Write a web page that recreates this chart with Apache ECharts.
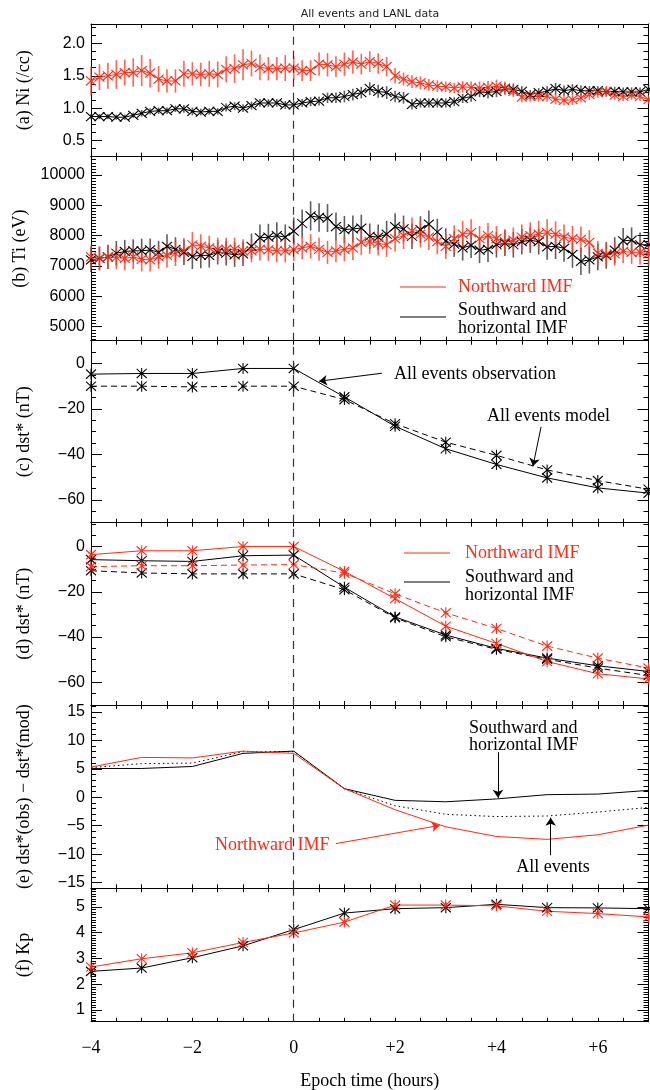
<!DOCTYPE html>
<html>
<head>
<meta charset="utf-8">
<title>All events and LANL data</title>
<script src="https://cdn.jsdelivr.net/npm/echarts@6/dist/echarts.min.js"></script>
<style>
    html, body { margin: 0; padding: 0; background: #fff; }
    #main { width: 650px; height: 1090px; }
</style>
</head>
<body>
<div id="main"></div>
<script>
// epoch grid: hourly values and 10 minute bins (hours from onset)
var hourTimes = [-4, -3, -2, -1, 0, 1, 2, 3, 4, 5, 6, 7]
var fineTimes = []
for (var t = 0; t <= 66; t++) fineTimes.push(-4 + t / 6)

// (a) ion density, /cc
var niNorth = [
    1.42, 1.48, 1.5, 1.52, 1.55, 1.55, 1.58, 1.54, 1.45, 1.42, 1.42, 1.53,
    1.53, 1.52, 1.53, 1.52, 1.6, 1.61, 1.67, 1.69, 1.63, 1.61, 1.61, 1.62,
    1.62, 1.58, 1.58, 1.68, 1.67, 1.64, 1.68, 1.71, 1.68, 1.72, 1.69, 1.64,
    1.5, 1.45, 1.41, 1.39, 1.36, 1.34, 1.33, 1.31, 1.33, 1.32, 1.31, 1.32,
    1.34, 1.31, 1.26, 1.17, 1.18, 1.18, 1.18, 1.14, 1.12, 1.13, 1.16, 1.21,
    1.24, 1.26, 1.2, 1.18, 1.2, 1.18, 1.13
]
var niNorthErr = [
    0.22, 0.2, 0.2, 0.22, 0.2, 0.22, 0.24, 0.22, 0.2, 0.18, 0.18, 0.2,
    0.18, 0.18, 0.2, 0.2, 0.2, 0.22, 0.24, 0.2, 0.2, 0.18, 0.18, 0.2,
    0.18, 0.16, 0.16, 0.18, 0.18, 0.16, 0.18, 0.18, 0.16, 0.16, 0.16, 0.15,
    0.12, 0.1, 0.1, 0.1, 0.09, 0.09, 0.08, 0.08, 0.09, 0.09, 0.1, 0.1,
    0.1, 0.1, 0.09, 0.08, 0.08, 0.08, 0.08, 0.08, 0.08, 0.08, 0.07, 0.08,
    0.08, 0.08, 0.07, 0.07, 0.07, 0.07, 0.07
]
var niSouth = [
    0.87, 0.87, 0.87, 0.86, 0.86, 0.89, 0.92, 0.95, 0.96, 0.96, 0.99, 0.99,
    0.95, 0.94, 0.95, 0.95, 1.01, 1.03, 1.0, 1.04, 1.08, 1.08, 1.08, 1.05,
    1.05, 1.08, 1.1, 1.11, 1.16, 1.16, 1.18, 1.21, 1.24, 1.3, 1.26, 1.24,
    1.18, 1.16, 1.06, 1.08, 1.08, 1.08, 1.08, 1.1, 1.15, 1.18, 1.25, 1.24,
    1.26, 1.3, 1.29, 1.26, 1.21, 1.24, 1.26, 1.3, 1.27, 1.29, 1.27, 1.27,
    1.27, 1.25, 1.26, 1.25, 1.25, 1.25, 1.29
]
var niSouthErr = [
    0.04, 0.04, 0.04, 0.04, 0.04, 0.04, 0.05, 0.05, 0.05, 0.05, 0.05, 0.06,
    0.06, 0.05, 0.05, 0.05, 0.06, 0.06, 0.06, 0.06, 0.06, 0.06, 0.06, 0.06,
    0.06, 0.06, 0.07, 0.07, 0.08, 0.08, 0.09, 0.09, 0.09, 0.1, 0.1, 0.1,
    0.09, 0.09, 0.08, 0.07, 0.07, 0.07, 0.07, 0.07, 0.07, 0.08, 0.08, 0.09,
    0.09, 0.09, 0.09, 0.08, 0.07, 0.07, 0.08, 0.09, 0.08, 0.08, 0.08, 0.07,
    0.07, 0.07, 0.07, 0.07, 0.07, 0.07, 0.07
]

// (b) ion temperature, eV
var tiNorth = [
    7300, 7250, 7300, 7280, 7250, 7300, 7220, 7200, 7300, 7350, 7420, 7500,
    7700, 7650, 7600, 7550, 7550, 7550, 7500, 7500, 7550, 7530, 7500, 7500,
    7540, 7600, 7650, 7550, 7450, 7500, 7550, 7600, 7780, 7800, 7750, 7700,
    7900, 8000, 8150, 8050, 7950, 7800, 7650, 7900, 8050, 8100, 7900, 8000,
    7900, 7800, 7850, 7950, 8000, 8050, 8100, 8050, 7950, 7900, 7880, 7780,
    7420, 7380, 7400, 7480, 7450, 7450, 7400
]
var tiNorthErr = [
    380, 400, 380, 380, 390, 400, 400, 380, 390, 400, 420, 420,
    420, 400, 400, 380, 380, 380, 380, 380, 370, 370, 380, 380,
    380, 380, 400, 380, 380, 380, 400, 400, 420, 400, 400, 400,
    420, 440, 450, 440, 420, 420, 420, 440, 440, 440, 420, 420,
    420, 420, 420, 420, 440, 440, 440, 420, 420, 420, 420, 400,
    400, 380, 380, 380, 380, 400, 400
]
var tiSouth = [
    7200, 7250, 7300, 7420, 7480, 7500, 7500, 7530, 7450, 7650, 7550, 7450,
    7320, 7350, 7350, 7450, 7420, 7370, 7400, 7650, 7930, 7950, 8000, 7950,
    8150, 8400, 8650, 8600, 8580, 8300, 8200, 8220, 8250, 7980, 7950, 8050,
    8300, 8220, 7980, 8200, 8380, 8120, 7820, 7720, 7600, 7680, 7520, 7550,
    7700, 7750, 7700, 7800, 7850, 7800, 7630, 7650, 7580, 7380, 7150, 7200,
    7300, 7350, 7520, 7830, 7850, 7700, 7700
]
var tiSouthErr = [
    400, 380, 400, 400, 380, 380, 400, 380, 380, 400, 400, 420,
    420, 420, 400, 400, 400, 400, 400, 420, 440, 440, 440, 420,
    450, 460, 480, 470, 460, 460, 450, 440, 440, 420, 420, 440,
    440, 440, 420, 440, 450, 440, 420, 420, 420, 420, 420, 420,
    420, 420, 420, 420, 420, 420, 420, 420, 440, 440, 450, 450,
    440, 440, 430, 420, 420, 400, 400
]

// (c) all events dst*, nT
var dstObsAll = [-4.7, -4.4, -4.4, -2.2, -2.2, -14.7, -27.6, -37.5, -44.4, -50.3, -54.7, -57]
var dstModAll = [-10, -10, -10.3, -10, -10, -15.9, -26.5, -34.6, -40.4, -46.8, -51.5, -55.3]

// (d) dst* by IMF direction, nT
var dstObsNorth = [-3.6, -1.9, -1.9, 0, 0, -11, -23, -35.2, -42.8, -50.8, -56.2, -58.5]
var dstModNorth = [-8.9, -8.5, -8.5, -8.2, -8, -11.8, -20.9, -29.3, -36.2, -44, -49.3, -53.7]
var dstObsSouth = [-5.8, -6.3, -6.6, -4.1, -3.8, -18, -31.1, -39.1, -45, -49.3, -52.7, -55.2]
var dstModSouth = [-10.7, -11.7, -12.1, -12.1, -12.1, -19.1, -31.5, -39.9, -45.4, -49.8, -53.7, -57]

// (e) observed minus modelled dst*, nT
var diffNorth = [5.3, 7.0, 6.9, 8.1, 7.7, 1.5, -2.2, -5.2, -6.9, -7.4, -6.6, -4.9]
var diffSouth = [5.05, 5.05, 5.4, 7.7, 8.1, 1.5, -0.55, -0.8, -0.3, 0.45, 0.55, 1.2]
var diffAll = [5.2, 5.9, 6.0, 8.0, 8.0, 1.5, -1.5, -3.0, -3.4, -3.3, -2.6, -1.8]

// (f) Kp
var kpSouth = [2.5, 2.63, 3.03, 3.49, 4.12, 4.76, 4.93, 4.97, 5.1, 4.97, 4.96, 4.93]
var kpNorth = [2.67, 2.99, 3.22, 3.62, 3.99, 4.41, 5.07, 5.07, 5.04, 4.83, 4.74, 4.61]

// tick labels
var hourTicks = [-4, -2, 0, 2, 4, 6]
var niTicks = [0.5, 1.0, 1.5, 2.0]
var tiTicks = [5000, 6000, 7000, 8000, 9000, 10000]
var dstTicks = [-60, -40, -20, 0]
var diffTicks = [-15, -10, -5, 0, 5, 10, 15]
var kpTicks = [1, 2, 3, 4, 5]

var RED = '#ff2a14'
var SERIF = '"Liberation Serif", "Times New Roman", serif'
var SANS = '"Liberation Sans", Arial, sans-serif'
var crossSymbol = 'path://M0,0L10,10M10,0L0,10'
var starSymbol = 'path://M0,1L10,11M10,1L0,11M5,0L5,12'

// panel frames (pixel layout of the stacked plots)
var panels = [
    { top: 24, bottom: 156.7, min: 0.25, max: 2.3, ticks: niTicks, minor: 0.125, digits: 1, name: '(a) Ni (/cc)' },
    { top: 156.7, bottom: 340.7, min: 4540, max: 10600, ticks: tiTicks, minor: 100, digits: 0, name: '(b) Ti (eV)' },
    { top: 340.7, bottom: 522.7, min: -70, max: 10, ticks: dstTicks, minor: 5, digits: 0, name: '(c) dst* (nT)' },
    { top: 522.7, bottom: 705, min: -70, max: 10.5, ticks: dstTicks, minor: 5, digits: 0, name: '(d) dst* (nT)' },
    { top: 705, bottom: 888.3, min: -16, max: 16.2, ticks: diffTicks, minor: 1, digits: 0, name: '(e) dst*(obs) \u2212 dst*(mod)' },
    { top: 888.3, bottom: 1021.7, min: 0.55, max: 5.72, ticks: kpTicks, minor: 0.1, digits: 0, name: '(f) Kp' }
]

function stepValues(min, max, step) { // tick positions between min and max
    var out = []
    var n = Math.ceil(min / step - 1e-9)
    for (var v = n * step; v <= max + 1e-9; v = (++n) * step) {
        out.push(+v.toFixed(6))
    }
    return out
}

function signedHour(v) {
    if (v < 0) return '\u2212' + Math.abs(v)
    if (v > 0) return '+' + v
    return '0'
}

function xAxisOf(k, pos, withLabels) {
    return {
        type: 'value',
        gridIndex: k,
        position: pos,
        min: -4,
        max: 7,
        axisLine: { show: true, onZero: false, lineStyle: { color: '#000', width: 1 } },
        axisTick: { show: true, inside: true, length: 4, customValues: stepValues(-4, 7, 0.5), lineStyle: { color: '#000' } },
        axisLabel: {
            show: withLabels,
            customValues: hourTicks,
            margin: 18,
            formatter: signedHour,
            fontFamily: SERIF,
            fontSize: 18,
            color: '#000'
        },
        splitLine: { show: false },
        name: withLabels ? 'Epoch time (hours)' : '',
        nameLocation: 'middle',
        nameGap: 51,
        nameTextStyle: { fontFamily: SERIF, fontSize: 18, color: '#000' }
    }
}

function yAxisOf(p, k, pos, major, withLabels) {
    return {
        type: 'value',
        gridIndex: k,
        position: pos,
        min: p.min,
        max: p.max,
        axisLine: { show: major, onZero: false, lineStyle: { color: '#000', width: 1 } },
        axisTick: {
            show: true,
            inside: true,
            length: major ? 11 : 5,
            customValues: major ? p.ticks : stepValues(p.min, p.max, p.minor),
            lineStyle: { color: '#000' }
        },
        axisLabel: {
            show: withLabels,
            customValues: p.ticks,
            margin: 6,
            formatter: function (v) {
                var s = Math.abs(v).toFixed(p.digits)
                return v < 0 ? '\u2212' + s : s
            },
            fontFamily: SANS,
            fontSize: 16,
            color: '#000'
        },
        splitLine: { show: false },
        name: withLabels ? p.name : '',
        nameLocation: 'middle',
        nameRotate: 90,
        nameGap: 58,
        nameTextStyle: { fontFamily: SERIF, fontSize: 18, color: '#000' }
    }
}

function curve(k, xs, ys, color, opt) {
    opt = opt || {}
    return {
        type: 'line',
        xAxisIndex: 2 * k,
        yAxisIndex: 4 * k,
        data: xs.map(function (x, i) { return [x, ys[i]] }),
        symbol: opt.symbol || 'none',
        showSymbol: !!opt.symbol,
        symbolSize: opt.size || 10,
        lineStyle: { color: color, width: 1, type: opt.dash || 'solid' },
        itemStyle: { color: color, borderColor: color, borderWidth: 1.1 },
        silent: true,
        z: 3
    }
}

function errorBars(k, xs, ys, es, color) {
    return {
        type: 'custom',
        xAxisIndex: 2 * k,
        yAxisIndex: 4 * k,
        data: xs.map(function (x, i) { return [x, ys[i] - es[i], ys[i] + es[i]] }),
        encode: { x: 0, y: [1, 2] },
        renderItem: function (params, api) {
            var lo = api.coord([api.value(0), api.value(1)])
            var hi = api.coord([api.value(0), api.value(2)])
            return {
                type: 'line',
                shape: { x1: lo[0], y1: lo[1], x2: hi[0], y2: hi[1] },
                style: { stroke: color, lineWidth: 1.6 }
            }
        },
        silent: true,
        z: 2
    }
}

var zeroLine = { // dashed line at epoch time 0
    silent: true,
    symbol: ['none', 'none'],
    label: { show: false },
    lineStyle: { color: '#333', type: [8, 6], width: 1.2 },
    data: [{ xAxis: 0 }]
}

function arrows(list, color) {
    return {
        silent: true,
        symbol: ['none', 'arrow'],
        symbolSize: 8,
        label: { show: false },
        lineStyle: { color: color, type: 'solid', width: 1 },
        data: list.map(function (a) { return [{ coord: a[0] }, { coord: a[1] }] })
    }
}

var grids = [], xAxes = [], yAxes = []
panels.forEach(function (p, k) {
    grids.push({ left: 91, right: 1.5, top: p.top, height: p.bottom - p.top, outerBoundsMode: 'none' })
    xAxes.push(xAxisOf(k, 'bottom', k === panels.length - 1))
    xAxes.push(xAxisOf(k, 'top', false))
    yAxes.push(yAxisOf(p, k, 'left', true, true))
    yAxes.push(yAxisOf(p, k, 'left', false, false))
    yAxes.push(yAxisOf(p, k, 'right', true, false))
    yAxes.push(yAxisOf(p, k, 'right', false, false))
})

var series = []
// (a)
series.push(errorBars(0, fineTimes, niSouth, niSouthErr, 'rgba(40,40,40,0.75)'))
series.push(errorBars(0, fineTimes, niNorth, niNorthErr, 'rgba(255,60,40,0.8)'))
series.push(Object.assign(curve(0, fineTimes, niSouth, '#000', { symbol: crossSymbol, size: [10, 9] }), { markLine: zeroLine }))
series.push(curve(0, fineTimes, niNorth, RED, { symbol: crossSymbol, size: [10, 9] }))
// (b)
series.push(errorBars(1, fineTimes, tiSouth, tiSouthErr, 'rgba(40,40,40,0.75)'))
series.push(errorBars(1, fineTimes, tiNorth, tiNorthErr, 'rgba(255,60,40,0.8)'))
series.push(Object.assign(curve(1, fineTimes, tiSouth, '#000', { symbol: crossSymbol, size: [10, 9] }), { markLine: zeroLine }))
series.push(curve(1, fineTimes, tiNorth, RED, { symbol: crossSymbol, size: [10, 9] }))
// (c)
series.push(Object.assign(curve(2, hourTimes, dstObsAll, '#000', { symbol: starSymbol, size: [10, 11] }), { markLine: zeroLine }))
series.push(Object.assign(curve(2, hourTimes, dstModAll, '#000', { symbol: starSymbol, size: [10, 11], dash: [6, 4] }), {
    markLine: arrows([[[1.74, -4.3], [0.5, -7.8]], [[4.88, -27.9], [4.72, -45.2]]], '#000')
}))
// (d)
series.push(Object.assign(curve(3, hourTimes, dstModSouth, '#000', { symbol: starSymbol, size: [10, 11], dash: [6, 4] }), { markLine: zeroLine }))
series.push(curve(3, hourTimes, dstObsSouth, '#000', { symbol: starSymbol, size: [10, 11] }))
series.push(curve(3, hourTimes, dstModNorth, RED, { symbol: starSymbol, size: [10, 11], dash: [6, 4] }))
series.push(curve(3, hourTimes, dstObsNorth, RED, { symbol: starSymbol, size: [10, 11] }))
// (e)
series.push(Object.assign(curve(4, hourTimes, diffAll, '#000', { dash: [1.5, 3] }), { markLine: zeroLine }))
series.push(Object.assign(curve(4, hourTimes, diffSouth, '#000'), {
    markLine: arrows([[[4.03, 7.9], [4.03, -0.1]], [[5.07, -10.2], [5.07, -3.6]]], '#000')
}))
series.push(Object.assign(curve(4, hourTimes, diffNorth, RED), {
    markLine: arrows([[[0.83, -8.15], [2.88, -4.95]]], RED)
}))
// (f)
series.push(Object.assign(curve(5, hourTimes, kpSouth, '#000', { symbol: starSymbol, size: [10, 11] }), { markLine: zeroLine }))
series.push(curve(5, hourTimes, kpNorth, RED, { symbol: starSymbol, size: [10, 11] }))

function label(text, x, y, color, align) {
    return {
        type: 'text',
        x: x,
        y: y,
        silent: true,
        style: {
            text: text,
            fill: color || '#000',
            fontFamily: SERIF,
            fontSize: 18,
            align: align || 'left',
            verticalAlign: 'middle'
        }
    }
}

function swatch(x1, x2, y, color) {
    return { type: 'line', silent: true, shape: { x1: x1, y1: y, x2: x2, y2: y }, style: { stroke: color, lineWidth: 1.2 } }
}

var graphics = [
    {
        type: 'text', x: 370, y: 14, silent: true,
        style: { text: 'All events and LANL data', fill: '#222', fontFamily: '"DejaVu Sans", sans-serif', fontSize: 11, align: 'center', verticalAlign: 'middle' }
    },
    // legend in (b)
    swatch(400, 446, 287, RED), label('Northward IMF', 458, 287, RED),
    swatch(400, 446, 317, '#000'), label('Southward and', 458, 310), label('horizontal IMF', 458, 328),
    // notes in (c)
    label('All events observation', 394, 374), label('All events model', 487, 416),
    // legend in (d)
    swatch(404, 450, 553, RED), label('Northward IMF', 465, 553, RED),
    swatch(404, 450, 582, '#000'), label('Southward and', 465, 577), label('horizontal IMF', 465, 595),
    // notes in (e)
    label('Southward and', 469, 728), label('horizontal IMF', 469, 745),
    label('Northward IMF', 215, 845, RED), label('All events', 553, 867, '#000', 'center')
]

var chart = echarts.init(document.getElementById('main'))
chart.setOption({
    animation: false,
    backgroundColor: '#fff',
    grid: grids,
    xAxis: xAxes,
    yAxis: yAxes,
    series: series,
    graphic: graphics
})
</script>
</body>
</html>
